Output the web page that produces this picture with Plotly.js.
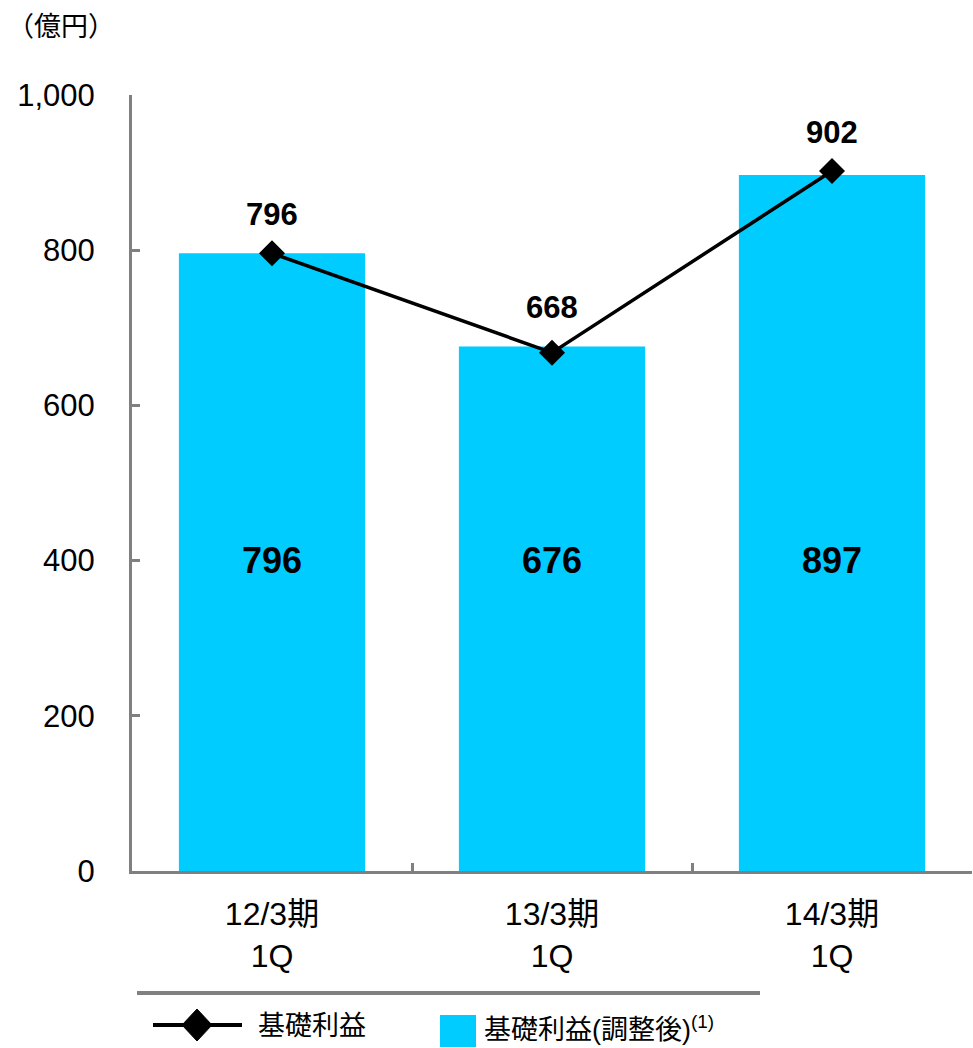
<!DOCTYPE html>
<html>
<head>
<meta charset="utf-8">
<script src="https://cdn.plot.ly/plotly-3.0.1.min.js"></script>
<style>html,body{margin:0;padding:0;background:#fff;}#chart{width:973px;height:1048px;}</style>
</head>
<body>
<div id="chart"></div>
<script>
// ---- data ----
const categories = ['12/3期<br>1Q', '13/3期<br>1Q', '14/3期<br>1Q'];
const adjustedProfit = [796, 676, 897];   // 基礎利益(調整後) bars
const baseProfit = [796, 668, 902];       // 基礎利益 line
const yTickVals = [0, 200, 400, 600, 800, 1000];
const unitLabel = '（億円）';
const lineName = '基礎利益';
const barName = '基礎利益(調整後)';

const FONT = 'Liberation Sans, Arial, "Noto Sans CJK JP", sans-serif';
const AXIS_GRAY = '#808080';
const BAR_BLUE = '#00CCFF';

// pixel -> paper helpers (plot area: x 132..972, y 95..871)
const L = 132, R = 1, T = 95, B = 177, W = 973, H = 1048;
const PW = W - L - R, PH = H - T - B;
const px = X => (X - L) / PW;
const py = Y => (H - B - Y) / PH;

const traces = [
  {
    type: 'bar', x: categories, y: adjustedProfit, name: barName,
    marker: {color: BAR_BLUE, line: {width: 0}}, showlegend: false,
    hoverinfo: 'skip'
  },
  {
    type: 'scatter', mode: 'lines+markers', x: categories, y: baseProfit, name: lineName,
    line: {color: '#000', width: 3.5},
    marker: {symbol: 'diamond', size: 20, color: '#000'},
    showlegend: false, hoverinfo: 'skip'
  }
];

const annotations = [];
// value labels above line points and inside bars
categories.forEach((c, i) => {
  annotations.push({
    x: c, y: Math.max(baseProfit[i], adjustedProfit[i]), xref: 'x', yref: 'y',
    text: String(baseProfit[i]), showarrow: false, yanchor: 'middle', yshift: 39,
    font: {family: FONT, size: 31, color: '#000', weight: 'bold'}
  });
  annotations.push({
    x: c, y: 400, xref: 'x', yref: 'y',
    text: String(adjustedProfit[i]), showarrow: false, yanchor: 'middle',
    font: {family: FONT, size: 36, color: '#000', weight: 'bold'}
  });
});
// legend texts
annotations.push({
  xref: 'paper', yref: 'paper', x: px(256), y: py(1026), xanchor: 'left', yanchor: 'middle',
  text: lineName, showarrow: false, font: {family: FONT, size: 27, color: '#000'}
});
annotations.push({
  xref: 'paper', yref: 'paper', x: px(482), y: py(1028), xanchor: 'left', yanchor: 'middle',
  text: barName + '<sup>(1)</sup>', showarrow: false, font: {family: FONT, size: 27, color: '#000'}
});

const cx = px(197), cy = py(1025), dx = 15 / PW, dy = 16 / PH;
const shapes = [
  {type: 'line', xref: 'paper', yref: 'paper', x0: px(137), x1: px(760), y0: py(993), y1: py(993),
   line: {color: AXIS_GRAY, width: 4}},
  {type: 'line', xref: 'paper', yref: 'paper', x0: px(153), x1: px(242), y0: cy, y1: cy,
   line: {color: '#000', width: 4}},
  {type: 'path', xref: 'paper', yref: 'paper',
   path: `M ${cx - dx} ${cy} L ${cx} ${cy + dy} L ${cx + dx} ${cy} L ${cx} ${cy - dy} Z`,
   fillcolor: '#000', line: {color: '#000', width: 1}},
  {type: 'rect', xref: 'paper', yref: 'paper', x0: px(440), x1: px(476), y0: py(1047), y1: py(1015),
   fillcolor: BAR_BLUE, line: {width: 0}}
];

const layout = {
  width: W, height: H,
  margin: {l: L, r: R, t: T, b: B, pad: 0},
  paper_bgcolor: '#fff', plot_bgcolor: '#fff',
  font: {family: FONT, color: '#000', size: 31},
  title: {text: unitLabel, xref: 'container', yref: 'container', x: 7 / W, xanchor: 'left',
          y: 1 - 27 / H, yanchor: 'middle', font: {family: FONT, size: 27, color: '#000'}},
  bargap: 0.335,
  showlegend: false,
  xaxis: {
    type: 'category', range: [-0.5, 2.5], showline: true, linecolor: AXIS_GRAY, linewidth: 3,
    ticks: 'inside', tickson: 'boundaries', ticklen: 8, tickwidth: 3, tickcolor: AXIS_GRAY,
    showgrid: false, zeroline: false, ticklabelstandoff: 13,
    tickfont: {family: FONT, size: 32, color: '#000'}
  },
  yaxis: {
    range: [0, 1000], tickvals: yTickVals, tickformat: ',', showline: true, linecolor: AXIS_GRAY,
    linewidth: 3, ticks: 'inside', ticklen: 8, tickwidth: 3, tickcolor: AXIS_GRAY,
    showgrid: false, zeroline: false, ticklabelstandoff: 28,
    tickfont: {family: FONT, size: 31, color: '#000'}
  },
  annotations: annotations,
  shapes: shapes
};

Plotly.newPlot('chart', traces, layout, {displayModeBar: false, staticPlot: true});
</script>
</body>
</html>
